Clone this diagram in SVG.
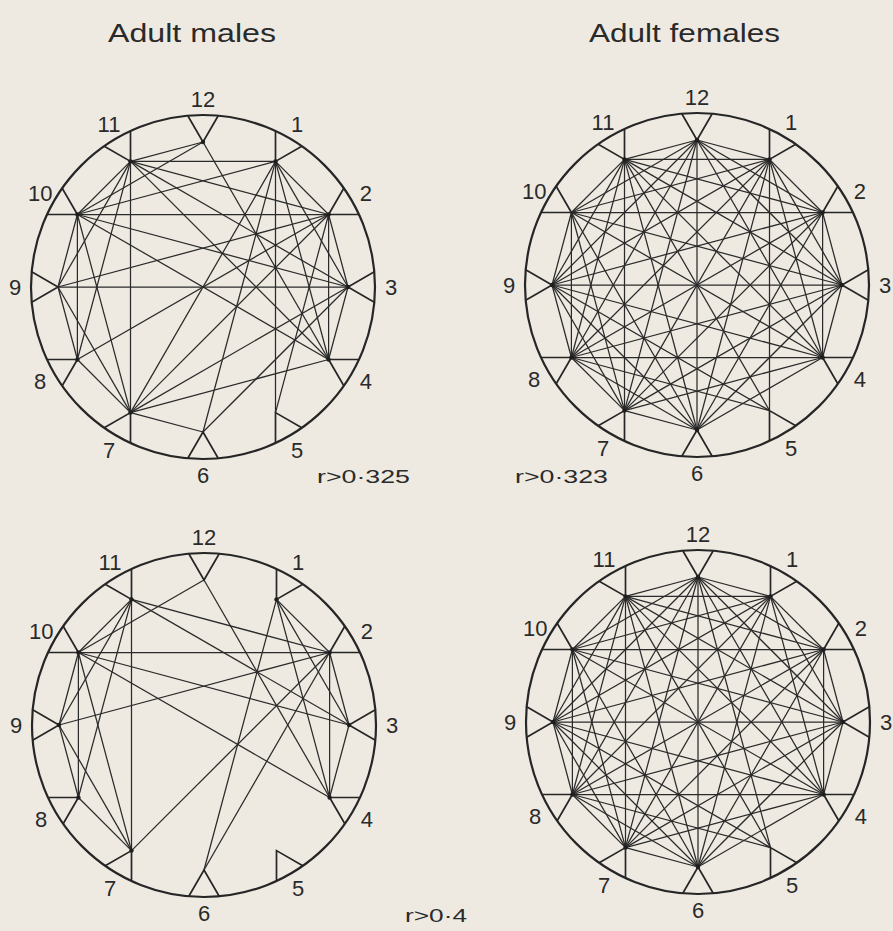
<svg xmlns="http://www.w3.org/2000/svg" width="893" height="931" viewBox="0 0 893 931">
<style>
.bg{fill:#eeeae2}
.rim{fill:none;stroke:#262626;stroke-width:2.2}
.v{fill:none;stroke:#262626;stroke-width:1.7;stroke-linejoin:miter}
.e path{fill:none;stroke:#2a2a2a;stroke-width:1.25}
.dot{fill:#1e1e1e}
text{font-family:"Liberation Sans","DejaVu Sans",sans-serif;fill:#2a2a2a}
.lab{font-size:22px;text-anchor:middle}
.ttl{font-size:25px}
.thr{font-size:19px}
</style>
<rect class="bg" x="0" y="0" width="893" height="931"/>
<text class="ttl" x="108" y="42" textLength="168" lengthAdjust="spacingAndGlyphs">Adult  males</text>
<text class="ttl" x="589" y="42" textLength="191" lengthAdjust="spacingAndGlyphs">Adult  females</text>
<text class="thr" x="317" y="483" textLength="93" lengthAdjust="spacingAndGlyphs">r&gt;0·325</text>
<text class="thr" x="515" y="483" textLength="93" lengthAdjust="spacingAndGlyphs">r&gt;0·323</text>
<text class="thr" x="405" y="922" textLength="62" lengthAdjust="spacingAndGlyphs">r&gt;0·4</text>

<!-- Top-left: adult males r>0.325 -->
<g id="tl" transform="translate(203,287)">
<circle class="rim" r="172"/>
<g id="tl-connectors" class="e">
<path d="M-72.5 -125.6L72.5 -125.6"/><path d="M-72.5 -125.6L0 -145"/><path d="M-72.5 -125.6L-125.6 -72.5"/><path d="M-72.5 -125.6L-145 0"/><path d="M-72.5 -125.6L-125.6 72.5"/><path d="M-72.5 -125.6L-72.5 125.6"/><path d="M-72.5 -125.6L125.6 -72.5"/><path d="M-72.5 -125.6L145 0"/><path d="M-72.5 -125.6L125.6 72.5"/>
<path d="M0 -145L-125.6 -72.5"/><path d="M0 -145L125.6 72.5"/>
<path d="M72.5 -125.6L125.6 -72.5"/><path d="M72.5 -125.6L145 0"/><path d="M72.5 -125.6L125.6 72.5"/><path d="M72.5 -125.6L72.5 125.6"/><path d="M72.5 -125.6L-72.5 125.6"/><path d="M72.5 -125.6L-125.6 -72.5"/><path d="M72.5 -125.6L0 145"/>
<path d="M125.6 -72.5L-125.6 -72.5"/><path d="M125.6 -72.5L145 0"/><path d="M125.6 -72.5L125.6 72.5"/><path d="M125.6 -72.5L72.5 125.6"/><path d="M125.6 -72.5L-72.5 125.6"/><path d="M125.6 -72.5L-125.6 72.5"/><path d="M125.6 -72.5L-145 0"/>
<path d="M145 0L-145 0"/><path d="M145 0L-125.6 -72.5"/><path d="M145 0L-72.5 125.6"/><path d="M145 0L0 145"/><path d="M145 0L125.6 72.5"/>
<path d="M125.6 72.5L-125.6 -72.5"/><path d="M125.6 72.5L-72.5 125.6"/>
<path d="M-72.5 125.6L-125.6 72.5"/><path d="M-72.5 125.6L-145 0"/><path d="M-72.5 125.6L-125.6 -72.5"/><path d="M-72.5 125.6L0 145"/>
<path d="M-125.6 72.5L-125.6 -72.5"/><path d="M-125.6 72.5L-145 0"/><path d="M-145 0L-125.6 -72.5"/>
</g>
<g id="tl-n12"><path class="v" d="M-15.2 -171.3L0 -145L15.2 -171.3"/><circle class="dot" cx="0" cy="-145" r="2.2"/><text class="lab" x="0" y="-180">12</text></g>
<g id="tl-n1"><path class="v" d="M72.5 -156L72.5 -125.6L98.8 -140.8"/><circle class="dot" cx="72.5" cy="-125.6" r="2.2"/><text class="lab" x="94" y="-154.8">1</text></g>
<g id="tl-n2"><path class="v" d="M140.8 -98.8L125.6 -72.5L156 -72.5"/><circle class="dot" cx="125.6" cy="-72.5" r="2.2"/><text class="lab" x="162.8" y="-86">2</text></g>
<g id="tl-n3"><path class="v" d="M171.3 -15.2L145 0L171.3 15.2"/><circle class="dot" cx="145" cy="0" r="2.2"/><text class="lab" x="188" y="8">3</text></g>
<g id="tl-n4"><path class="v" d="M156 72.5L125.6 72.5L140.8 98.8"/><circle class="dot" cx="125.6" cy="72.5" r="2.2"/><text class="lab" x="162.8" y="102">4</text></g>
<g id="tl-n5"><path class="v" d="M98.8 140.8L72.5 125.6L72.5 156"/><text class="lab" x="94" y="170.8">5</text></g>
<g id="tl-n6"><path class="v" d="M15.2 171.3L0 145L-15.2 171.3"/><text class="lab" x="0" y="196">6</text></g>
<g id="tl-n7"><path class="v" d="M-72.5 156L-72.5 125.6L-98.8 140.8"/><circle class="dot" cx="-72.5" cy="125.6" r="2.2"/><text class="lab" x="-94" y="170.8">7</text></g>
<g id="tl-n8"><path class="v" d="M-140.8 98.8L-125.6 72.5L-156 72.5"/><circle class="dot" cx="-125.6" cy="72.5" r="2.2"/><text class="lab" x="-162.8" y="102">8</text></g>
<g id="tl-n9"><path class="v" d="M-171.3 15.2L-145 0L-171.3 -15.2"/><text class="lab" x="-188" y="8">9</text></g>
<g id="tl-n10"><path class="v" d="M-156 -72.5L-125.6 -72.5L-140.8 -98.8"/><circle class="dot" cx="-125.6" cy="-72.5" r="2.2"/><text class="lab" x="-162.8" y="-86">10</text></g>
<g id="tl-n11"><path class="v" d="M-98.8 -140.8L-72.5 -125.6L-72.5 -156"/><circle class="dot" cx="-72.5" cy="-125.6" r="2.2"/><text class="lab" x="-94" y="-154.8">11</text></g>
</g>

<!-- Top-right: adult females r>0.323 -->
<g id="tr" transform="translate(697,285)">
<circle class="rim" r="172"/>
<g id="tr-connectors" class="e">
<path d="M72.5 -125.6L125.6 -72.5"/><path d="M72.5 -125.6L145 0"/><path d="M72.5 -125.6L125.6 72.5"/><path d="M72.5 -125.6L72.5 125.6"/><path d="M72.5 -125.6L0 145"/><path d="M72.5 -125.6L-72.5 125.6"/><path d="M72.5 -125.6L-125.6 72.5"/><path d="M72.5 -125.6L-145 0"/><path d="M72.5 -125.6L-125.6 -72.5"/><path d="M72.5 -125.6L-72.5 -125.6"/><path d="M72.5 -125.6L0 -145"/>
<path d="M125.6 -72.5L145 0"/><path d="M125.6 -72.5L125.6 72.5"/><path d="M125.6 -72.5L0 145"/><path d="M125.6 -72.5L-72.5 125.6"/><path d="M125.6 -72.5L-125.6 72.5"/><path d="M125.6 -72.5L-145 0"/><path d="M125.6 -72.5L-125.6 -72.5"/><path d="M125.6 -72.5L-72.5 -125.6"/><path d="M125.6 -72.5L0 -145"/>
<path d="M145 0L125.6 72.5"/><path d="M145 0L0 145"/><path d="M145 0L-72.5 125.6"/><path d="M145 0L-125.6 72.5"/><path d="M145 0L-145 0"/><path d="M145 0L-125.6 -72.5"/><path d="M145 0L-72.5 -125.6"/><path d="M145 0L0 -145"/>
<path d="M125.6 72.5L0 145"/><path d="M125.6 72.5L-72.5 125.6"/><path d="M125.6 72.5L-125.6 72.5"/><path d="M125.6 72.5L-145 0"/><path d="M125.6 72.5L-125.6 -72.5"/><path d="M125.6 72.5L-72.5 -125.6"/><path d="M125.6 72.5L0 -145"/>
<path d="M72.5 125.6L-125.6 72.5"/><path d="M72.5 125.6L-145 0"/><path d="M72.5 125.6L-72.5 -125.6"/>
<path d="M0 145L-72.5 125.6"/><path d="M0 145L-125.6 72.5"/><path d="M0 145L-145 0"/><path d="M0 145L-125.6 -72.5"/><path d="M0 145L-72.5 -125.6"/><path d="M0 145L0 -145"/>
<path d="M-72.5 125.6L-125.6 72.5"/><path d="M-72.5 125.6L-145 0"/><path d="M-72.5 125.6L-125.6 -72.5"/><path d="M-72.5 125.6L-72.5 -125.6"/><path d="M-72.5 125.6L0 -145"/>
<path d="M-125.6 72.5L-145 0"/><path d="M-125.6 72.5L-125.6 -72.5"/><path d="M-125.6 72.5L-72.5 -125.6"/><path d="M-125.6 72.5L0 -145"/>
<path d="M-145 0L-125.6 -72.5"/><path d="M-145 0L-72.5 -125.6"/><path d="M-145 0L0 -145"/>
<path d="M-125.6 -72.5L-72.5 -125.6"/><path d="M-125.6 -72.5L0 -145"/><path d="M-72.5 -125.6L0 -145"/>
</g>
<g id="tr-n12"><path class="v" d="M-15.2 -171.3L0 -145L15.2 -171.3"/><circle class="dot" cx="0" cy="-145" r="2.2"/><text class="lab" x="0" y="-180">12</text></g>
<g id="tr-n1"><path class="v" d="M72.5 -156L72.5 -125.6L98.8 -140.8"/><circle class="dot" cx="72.5" cy="-125.6" r="2.2"/><text class="lab" x="94" y="-154.8">1</text></g>
<g id="tr-n2"><path class="v" d="M140.8 -98.8L125.6 -72.5L156 -72.5"/><circle class="dot" cx="125.6" cy="-72.5" r="2.2"/><text class="lab" x="162.8" y="-86">2</text></g>
<g id="tr-n3"><path class="v" d="M171.3 -15.2L145 0L171.3 15.2"/><circle class="dot" cx="145" cy="0" r="2.2"/><text class="lab" x="188" y="8">3</text></g>
<g id="tr-n4"><path class="v" d="M156 72.5L125.6 72.5L140.8 98.8"/><circle class="dot" cx="125.6" cy="72.5" r="2.2"/><text class="lab" x="162.8" y="102">4</text></g>
<g id="tr-n5"><path class="v" d="M98.8 140.8L72.5 125.6L72.5 156"/><text class="lab" x="94" y="170.8">5</text></g>
<g id="tr-n6"><path class="v" d="M15.2 171.3L0 145L-15.2 171.3"/><circle class="dot" cx="0" cy="145" r="2.2"/><text class="lab" x="0" y="196">6</text></g>
<g id="tr-n7"><path class="v" d="M-72.5 156L-72.5 125.6L-98.8 140.8"/><circle class="dot" cx="-72.5" cy="125.6" r="2.2"/><text class="lab" x="-94" y="170.8">7</text></g>
<g id="tr-n8"><path class="v" d="M-140.8 98.8L-125.6 72.5L-156 72.5"/><circle class="dot" cx="-125.6" cy="72.5" r="2.2"/><text class="lab" x="-162.8" y="102">8</text></g>
<g id="tr-n9"><path class="v" d="M-171.3 15.2L-145 0L-171.3 -15.2"/><circle class="dot" cx="-145" cy="0" r="2.2"/><text class="lab" x="-188" y="8">9</text></g>
<g id="tr-n10"><path class="v" d="M-156 -72.5L-125.6 -72.5L-140.8 -98.8"/><text class="lab" x="-162.8" y="-86">10</text></g>
<g id="tr-n11"><path class="v" d="M-98.8 -140.8L-72.5 -125.6L-72.5 -156"/><circle class="dot" cx="-72.5" cy="-125.6" r="2.2"/><text class="lab" x="-94" y="-154.8">11</text></g>
</g>

<!-- Bottom-left: adult males r>0.4 -->
<g id="bl" transform="translate(204,725)">
<circle class="rim" r="172"/>
<g id="bl-connectors" class="e">
<path d="M-125.6 -72.5L125.6 -72.5"/><path d="M-125.6 -72.5L-72.5 -125.6"/><path d="M-125.6 -72.5L0 -145"/><path d="M-125.6 -72.5L145 0"/><path d="M-125.6 -72.5L125.6 72.5"/><path d="M-125.6 -72.5L-125.6 72.5"/><path d="M-125.6 -72.5L-72.5 125.6"/><path d="M-125.6 -72.5L-145 0"/>
<path d="M-72.5 -125.6L-72.5 125.6"/><path d="M-72.5 -125.6L-145 0"/><path d="M-72.5 -125.6L-125.6 72.5"/><path d="M-72.5 -125.6L125.6 -72.5"/><path d="M-72.5 -125.6L145 0"/>
<path d="M0 -145L125.6 72.5"/>
<path d="M72.5 -125.6L125.6 -72.5"/><path d="M72.5 -125.6L145 0"/><path d="M72.5 -125.6L125.6 72.5"/><path d="M72.5 -125.6L0 145"/>
<path d="M125.6 -72.5L145 0"/><path d="M125.6 -72.5L125.6 72.5"/><path d="M125.6 -72.5L-145 0"/><path d="M125.6 -72.5L-72.5 125.6"/><path d="M125.6 -72.5L0 145"/>
<path d="M145 0L125.6 72.5"/>
<path d="M-145 0L-125.6 72.5"/><path d="M-145 0L-72.5 125.6"/><path d="M-125.6 72.5L-72.5 125.6"/>
</g>
<g id="bl-n12"><path class="v" d="M-15.2 -171.3L0 -145L15.2 -171.3"/><text class="lab" x="0" y="-180">12</text></g>
<g id="bl-n1"><path class="v" d="M72.5 -156L72.5 -125.6L98.8 -140.8"/><circle class="dot" cx="72.5" cy="-125.6" r="2.2"/><text class="lab" x="94" y="-154.8">1</text></g>
<g id="bl-n2"><path class="v" d="M140.8 -98.8L125.6 -72.5L156 -72.5"/><circle class="dot" cx="125.6" cy="-72.5" r="2.2"/><text class="lab" x="162.8" y="-86">2</text></g>
<g id="bl-n3"><path class="v" d="M171.3 -15.2L145 0L171.3 15.2"/><circle class="dot" cx="145" cy="0" r="2.2"/><text class="lab" x="188" y="8">3</text></g>
<g id="bl-n4"><path class="v" d="M156 72.5L125.6 72.5L140.8 98.8"/><circle class="dot" cx="125.6" cy="72.5" r="2.2"/><text class="lab" x="162.8" y="102">4</text></g>
<g id="bl-n5"><path class="v" d="M98.8 140.8L72.5 125.6L72.5 156"/><text class="lab" x="94" y="170.8">5</text></g>
<g id="bl-n6"><path class="v" d="M15.2 171.3L0 145L-15.2 171.3"/><text class="lab" x="0" y="196">6</text></g>
<g id="bl-n7"><path class="v" d="M-72.5 156L-72.5 125.6L-98.8 140.8"/><circle class="dot" cx="-72.5" cy="125.6" r="2.2"/><text class="lab" x="-94" y="170.8">7</text></g>
<g id="bl-n8"><path class="v" d="M-140.8 98.8L-125.6 72.5L-156 72.5"/><circle class="dot" cx="-125.6" cy="72.5" r="2.2"/><text class="lab" x="-162.8" y="102">8</text></g>
<g id="bl-n9"><path class="v" d="M-171.3 15.2L-145 0L-171.3 -15.2"/><circle class="dot" cx="-145" cy="0" r="2.2"/><text class="lab" x="-188" y="8">9</text></g>
<g id="bl-n10"><path class="v" d="M-156 -72.5L-125.6 -72.5L-140.8 -98.8"/><circle class="dot" cx="-125.6" cy="-72.5" r="2.2"/><text class="lab" x="-162.8" y="-86">10</text></g>
<g id="bl-n11"><path class="v" d="M-98.8 -140.8L-72.5 -125.6L-72.5 -156"/><circle class="dot" cx="-72.5" cy="-125.6" r="2.2"/><text class="lab" x="-94" y="-154.8">11</text></g>
</g>

<!-- Bottom-right: adult females r>0.4 -->
<g id="br" transform="translate(698,722)">
<circle class="rim" r="172"/>
<g id="br-connectors" class="e">
<path d="M72.5 -125.6L125.6 -72.5"/><path d="M72.5 -125.6L145 0"/><path d="M72.5 -125.6L125.6 72.5"/><path d="M72.5 -125.6L0 145"/><path d="M72.5 -125.6L-72.5 125.6"/><path d="M72.5 -125.6L-125.6 72.5"/><path d="M72.5 -125.6L-145 0"/><path d="M72.5 -125.6L-125.6 -72.5"/><path d="M72.5 -125.6L-72.5 -125.6"/><path d="M72.5 -125.6L0 -145"/>
<path d="M125.6 -72.5L145 0"/><path d="M125.6 -72.5L125.6 72.5"/><path d="M125.6 -72.5L0 145"/><path d="M125.6 -72.5L-72.5 125.6"/><path d="M125.6 -72.5L-125.6 72.5"/><path d="M125.6 -72.5L-145 0"/><path d="M125.6 -72.5L-125.6 -72.5"/><path d="M125.6 -72.5L-72.5 -125.6"/><path d="M125.6 -72.5L0 -145"/>
<path d="M145 0L125.6 72.5"/><path d="M145 0L0 145"/><path d="M145 0L-72.5 125.6"/><path d="M145 0L-125.6 72.5"/><path d="M145 0L-145 0"/><path d="M145 0L-125.6 -72.5"/><path d="M145 0L-72.5 -125.6"/><path d="M145 0L0 -145"/>
<path d="M125.6 72.5L0 145"/><path d="M125.6 72.5L-72.5 125.6"/><path d="M125.6 72.5L-125.6 72.5"/><path d="M125.6 72.5L-145 0"/><path d="M125.6 72.5L-125.6 -72.5"/><path d="M125.6 72.5L-72.5 -125.6"/><path d="M125.6 72.5L0 -145"/>
<path d="M72.5 125.6L-125.6 72.5"/><path d="M72.5 125.6L-145 0"/><path d="M72.5 125.6L-72.5 -125.6"/><path d="M72.5 125.6L0 -145"/>
<path d="M0 145L-72.5 125.6"/><path d="M0 145L-125.6 72.5"/><path d="M0 145L-145 0"/><path d="M0 145L-125.6 -72.5"/><path d="M0 145L-72.5 -125.6"/><path d="M0 145L0 -145"/>
<path d="M-72.5 125.6L-125.6 72.5"/><path d="M-72.5 125.6L-145 0"/><path d="M-72.5 125.6L-125.6 -72.5"/><path d="M-72.5 125.6L-72.5 -125.6"/><path d="M-72.5 125.6L0 -145"/>
<path d="M-125.6 72.5L-145 0"/><path d="M-125.6 72.5L-125.6 -72.5"/><path d="M-125.6 72.5L-72.5 -125.6"/><path d="M-125.6 72.5L0 -145"/>
<path d="M-145 0L-125.6 -72.5"/><path d="M-145 0L-72.5 -125.6"/><path d="M-145 0L0 -145"/>
<path d="M-125.6 -72.5L-72.5 -125.6"/><path d="M-125.6 -72.5L0 -145"/><path d="M-72.5 -125.6L0 -145"/>
</g>
<g id="br-n12"><path class="v" d="M-15.2 -171.3L0 -145L15.2 -171.3"/><circle class="dot" cx="0" cy="-145" r="2.2"/><text class="lab" x="0" y="-180">12</text></g>
<g id="br-n1"><path class="v" d="M72.5 -156L72.5 -125.6L98.8 -140.8"/><circle class="dot" cx="72.5" cy="-125.6" r="2.2"/><text class="lab" x="94" y="-154.8">1</text></g>
<g id="br-n2"><path class="v" d="M140.8 -98.8L125.6 -72.5L156 -72.5"/><circle class="dot" cx="125.6" cy="-72.5" r="2.2"/><text class="lab" x="162.8" y="-86">2</text></g>
<g id="br-n3"><path class="v" d="M171.3 -15.2L145 0L171.3 15.2"/><circle class="dot" cx="145" cy="0" r="2.2"/><text class="lab" x="188" y="8">3</text></g>
<g id="br-n4"><path class="v" d="M156 72.5L125.6 72.5L140.8 98.8"/><circle class="dot" cx="125.6" cy="72.5" r="2.2"/><text class="lab" x="162.8" y="102">4</text></g>
<g id="br-n5"><path class="v" d="M98.8 140.8L72.5 125.6L72.5 156"/><text class="lab" x="94" y="170.8">5</text></g>
<g id="br-n6"><path class="v" d="M15.2 171.3L0 145L-15.2 171.3"/><circle class="dot" cx="0" cy="145" r="2.2"/><text class="lab" x="0" y="196">6</text></g>
<g id="br-n7"><path class="v" d="M-72.5 156L-72.5 125.6L-98.8 140.8"/><circle class="dot" cx="-72.5" cy="125.6" r="2.2"/><text class="lab" x="-94" y="170.8">7</text></g>
<g id="br-n8"><path class="v" d="M-140.8 98.8L-125.6 72.5L-156 72.5"/><circle class="dot" cx="-125.6" cy="72.5" r="2.2"/><text class="lab" x="-162.8" y="102">8</text></g>
<g id="br-n9"><path class="v" d="M-171.3 15.2L-145 0L-171.3 -15.2"/><circle class="dot" cx="-145" cy="0" r="2.2"/><text class="lab" x="-188" y="8">9</text></g>
<g id="br-n10"><path class="v" d="M-156 -72.5L-125.6 -72.5L-140.8 -98.8"/><circle class="dot" cx="-125.6" cy="-72.5" r="2.2"/><text class="lab" x="-162.8" y="-86">10</text></g>
<g id="br-n11"><path class="v" d="M-98.8 -140.8L-72.5 -125.6L-72.5 -156"/><circle class="dot" cx="-72.5" cy="-125.6" r="2.2"/><text class="lab" x="-94" y="-154.8">11</text></g>
</g>
</svg>
